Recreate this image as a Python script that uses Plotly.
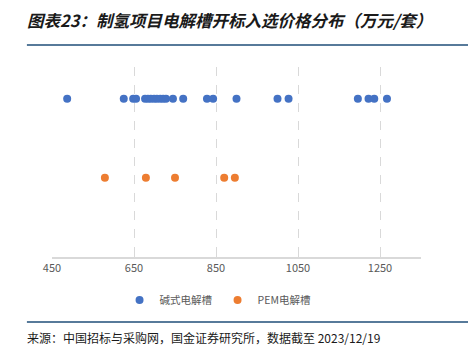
import plotly.graph_objects as go

alk_prices = [487, 625, 648, 655, 677, 684, 691, 699, 706, 714, 721, 728,
              745, 770, 828, 843, 900, 1000, 1027, 1196, 1222, 1236, 1267]
pem_prices = [579, 679, 750, 870, 896]
series_names = ["碱式电解槽", "PEM电解槽"]
series_rows = [2, 1]
tick_vals = [450, 650, 850, 1050, 1250]

fig = go.Figure()
fig.add_trace(go.Scatter(
    x=alk_prices, y=[series_rows[0]] * len(alk_prices), mode="markers",
    name=series_names[0], marker=dict(color="#4472C4", size=8)))
fig.add_trace(go.Scatter(
    x=pem_prices, y=[series_rows[1]] * len(pem_prices), mode="markers",
    name=series_names[1], marker=dict(color="#ED7D31", size=8)))

fig.update_layout(
    width=468, height=352,
    margin=dict(l=52, r=47, t=67, b=95),
    paper_bgcolor="white", plot_bgcolor="white",
    font=dict(family="Noto Sans CJK SC, Noto Sans, sans-serif", color="#595959", size=11),
    showlegend=True,
    legend=dict(orientation="h", x=0.45, xanchor="center", y=-0.15, yanchor="top",
                font=dict(size=10.5, color="#595959"), itemwidth=30,
                itemsizing="trace", traceorder="normal"),
    xaxis=dict(range=[450, 1350], tickvals=tick_vals, showgrid=True,
               gridcolor="#D9D9D9", griddash="dash", gridwidth=1,
               showline=True, linecolor="#D9D9D9", linewidth=1.5,
               ticks="inside", ticklen=5, tickcolor="#D9D9D9",
               zeroline=False, tickfont=dict(size=11, color="#595959")),
    yaxis=dict(range=[0, 2.4], showgrid=False, showticklabels=False,
               zeroline=False, showline=False),
)

fig.add_annotation(
    text="<b><i>图表23：制氢项目电解槽开标入选价格分布（万元/套）</i></b>",
    xref="paper", yref="paper", x=0, y=1, xshift=-27, yshift=61,
    xanchor="left", yanchor="top", showarrow=False,
    font=dict(size=16.5, color="#1a1a1a", family="Noto Sans CJK SC"))
fig.add_shape(type="line", xref="paper", yref="paper",
              x0=-0.068, x1=1.13, ysizemode="pixel", yanchor=1, y0=22, y1=22,
              line=dict(color="#1F4E79", width=1.5))
fig.add_shape(type="line", xref="paper", yref="paper",
              x0=-0.068, x1=1.13, ysizemode="pixel", yanchor=0, y0=-65, y1=-65,
              line=dict(color="#1F4E79", width=1.5))
fig.add_annotation(
    text="来源：中国招标与采购网，国金证券研究所，数据截至 2023/12/19",
    xref="paper", yref="paper", x=0, y=0, xshift=-27, yshift=-70,
    xanchor="left", yanchor="top", showarrow=False,
    font=dict(size=12, color="#1a1a1a", family="Noto Sans CJK SC"))

fig.write_html("out.html")
